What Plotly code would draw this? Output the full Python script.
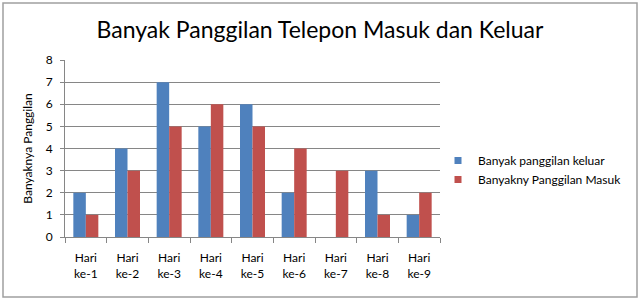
import plotly.graph_objects as go

categories = ["Hari<br>ke-1", "Hari<br>ke-2", "Hari<br>ke-3", "Hari<br>ke-4", "Hari<br>ke-5",
              "Hari<br>ke-6", "Hari<br>ke-7", "Hari<br>ke-8", "Hari<br>ke-9"]
keluar = [2, 4, 7, 5, 6, 2, 0, 3, 1]
masuk = [1, 3, 5, 6, 5, 4, 3, 1, 2]
y_ticks = [0, 1, 2, 3, 4, 5, 6, 7, 8]
series_names = ["Banyak panggilan keluar", "Banyakny Panggilan Masuk"]
colors = ["#4F81BD", "#C0504D"]

FONT = "Lato"

fig = go.Figure()
for vals, name, col in zip([keluar, masuk], series_names, colors):
    fig.add_trace(go.Bar(x=categories, y=vals, name=name, showlegend=False,
                         marker=dict(color=col, line=dict(width=0))))
# legend entries with small square markers
for name, col in zip(series_names, colors):
    fig.add_trace(go.Scatter(x=[None], y=[None], mode="markers", name=name,
                             marker=dict(symbol="square", size=7, color=col)))

L, R, T, B = 65, 200, 60, 64
W, H = 640, 301
pw, ph = W - L - R, H - T - B

fig.update_layout(
    width=W, height=H,
    margin=dict(l=L, r=R, t=T, b=B, pad=0),
    paper_bgcolor="white", plot_bgcolor="white",
    barmode="group", bargap=0.4, bargroupgap=0,
    font=dict(family=FONT, color="#000000", size=12),
    title=dict(text="Banyak Panggilan Telepon Masuk dan Keluar",
               x=0.5, xref="container", xanchor="center",
               y=(H - 30) / H, yanchor="middle",
               font=dict(family=FONT, size=23, color="#000")),
    legend=dict(x=(438 - L) / pw, y=(237 - 170) / ph, xanchor="left", yanchor="middle",
                font=dict(family=FONT, size=12), itemwidth=30, tracegroupgap=8,
                bgcolor="rgba(0,0,0,0)"),
    xaxis=dict(showgrid=False, showline=True, linecolor="#868686", linewidth=1,
               ticks="outside", ticklen=5, tickcolor="#868686", tickson="boundaries",
               tickfont=dict(family=FONT, size=12), ticklabelstandoff=10),
    yaxis=dict(range=[0, 8], tickvals=y_ticks, showgrid=True, gridcolor="#868686",
               gridwidth=1, showline=True, linecolor="#868686", linewidth=1,
               ticks="outside", ticklen=4, tickcolor="#868686",
               zeroline=False, tickfont=dict(family=FONT, size=12), ticklabelstandoff=5,
               title=dict(text="Banyaknya Panggilan", font=dict(family=FONT, size=12), standoff=10)),
    shapes=[dict(type="rect", xref="paper", yref="paper",
                 x0=(3 - L) / pw, x1=(637 - L) / pw,
                 y0=(237 - 297) / ph, y1=(237 - 3) / ph,
                 line=dict(color="#A0A0A0", width=1.5), fillcolor="rgba(0,0,0,0)", layer="below")],
)

fig.write_html("out.html")
